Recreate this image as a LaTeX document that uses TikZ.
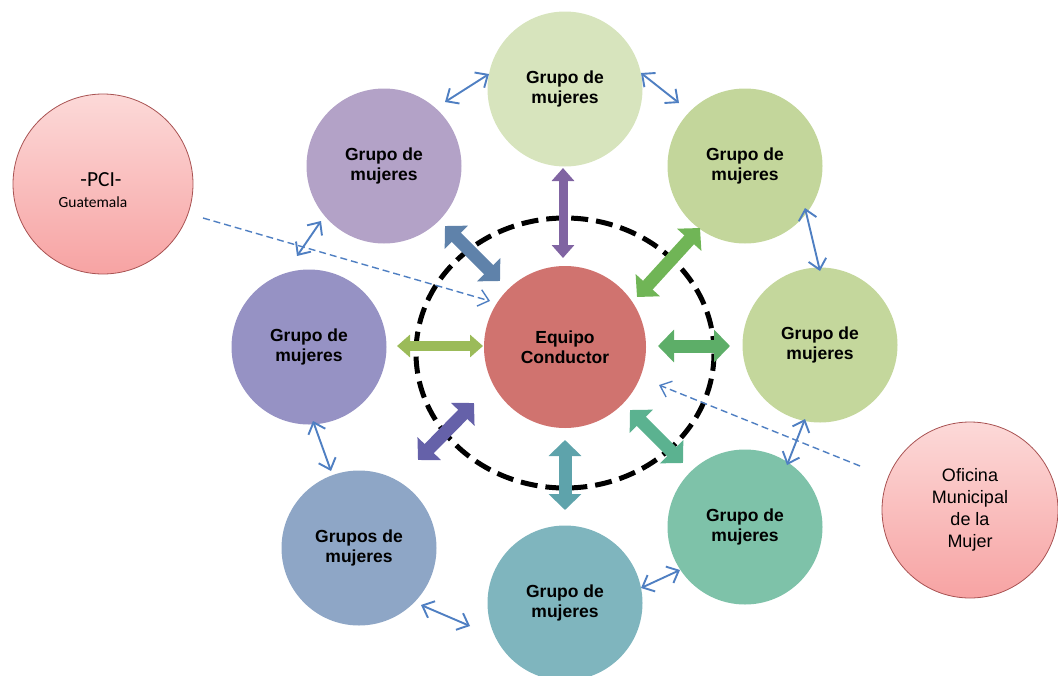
\documentclass[tikz,border=0pt]{standalone}
\usepackage{fontspec}
\setmainfont{Liberation Sans}
\newfontfamily\calfont{Carlito}
\usetikzlibrary{arrows.meta,shapes.geometric}
\definecolor{cTop}{HTML}{D7E4BD}
\definecolor{cTL}{HTML}{B3A2C7}
\definecolor{cTR}{HTML}{C3D69B}
\definecolor{cR}{HTML}{C4D79C}
\definecolor{cL}{HTML}{9692C4}
\definecolor{cBL}{HTML}{8EA6C6}
\definecolor{cB}{HTML}{7FB5BE}
\definecolor{cBR}{HTML}{7EC2A9}
\definecolor{cC}{HTML}{D0736F}
\definecolor{aTop}{HTML}{8064A2}
\definecolor{aTL}{HTML}{5F82AA}
\definecolor{aTR}{HTML}{70B556}
\definecolor{aL}{HTML}{9BBB59}
\definecolor{aR}{HTML}{5DAE68}
\definecolor{aBL}{HTML}{6561A9}
\definecolor{aB}{HTML}{5EA3AB}
\definecolor{aBR}{HTML}{5BB290}
\definecolor{linkblue}{HTML}{4F7FC2}
\definecolor{pinkT}{HTML}{FCD9D8}
\definecolor{pinkB}{HTML}{F7A3A3}
\definecolor{pinkD}{HTML}{A85252}
\tikzset{
  grupo/.style={circle, minimum size=155pt, inner sep=0pt, align=center,
    font=\bfseries\fontsize{17.5}{20}\selectfont},
  ext/.style={circle, inner sep=0pt, align=center, draw=pinkD, line width=0.8pt,
    top color=pinkT, bottom color=pinkB},
  bigarrow/.style={line width=13pt, {Triangle[length=16pt,width=32pt]}-{Triangle[length=16pt,width=32pt]}},
  slimarrow/.style={line width=9pt, {Triangle[length=13pt,width=22pt]}-{Triangle[length=13pt,width=22pt]}},
  link/.style={draw=linkblue, line width=1.9pt, {Straight Barb[length=10pt,width=18pt]}-{Straight Barb[length=10pt,width=18pt]}},
  dashlink/.style={draw=linkblue, line width=1.4pt, dash pattern=on 7pt off 4pt, -{Straight Barb[length=10pt,width=17pt]}}
}
\begin{document}
\begin{tikzpicture}[x=1pt,y=-1pt]
\useasboundingbox (0,0) rectangle (1058,675);
% dashed ellipse
\node[ellipse, draw=black, line width=5pt, dash pattern=on 17pt off 8pt,
  minimum width=298pt, minimum height=270pt] (ring) at (565,353) {};
% circles
\node[grupo, fill=cTop] (top) at (565,89) {Grupo de\\mujeres};
\node[grupo, fill=cTL] (tl) at (384,166) {Grupo de\\mujeres};
\node[grupo, fill=cTR] (tr) at (745,166) {Grupo de\\mujeres};
\node[grupo, fill=cR] (r) at (820,345) {Grupo de\\mujeres};
\node[grupo, fill=cL] (l) at (309,347) {Grupo de\\mujeres};
\node[grupo, fill=cBL] (bl) at (359,548) {Grupos de\\mujeres};
\node[grupo, fill=cB] (b) at (565,603) {Grupo de\\mujeres};
\node[grupo, fill=cBR] (br) at (745,527) {Grupo de\\mujeres};
\node[grupo, fill=cC, minimum size=162pt] (c) at (565,347) {Equipo\\Conductor};
% external
\node[ext, minimum size=180pt] (pci) at (103,184) {};
\node[font=\calfont\fontsize{21.5}{24}\selectfont, inner sep=0pt] (pcit) at (101,180) {-PCI-};
\node[font=\calfont\fontsize{15.5}{18}\selectfont, inner sep=0pt] (guat) at (93,202) {Guatemala};
\node[ext, minimum size=176pt, font=\fontsize{18}{22}\selectfont] (ofi) at (970,510)
  {Oficina\\Municipal\\de la\\Mujer};
% big arrows
\coordinate (p1a) at (563,168); \coordinate (p1b) at (563,258);
\draw[slimarrow, aTop] (p1a) -- (p1b);
\coordinate (p2a) at (445,226); \coordinate (p2b) at (500,281);
\draw[bigarrow, aTL] (p2a) -- (p2b);
\coordinate (p3a) at (700,228); \coordinate (p3b) at (637,297);
\draw[bigarrow, aTR] (p3a) -- (p3b);
\coordinate (p4a) at (397,346); \coordinate (p4b) at (483,346);
\draw[slimarrow, line width=10pt, aL] (p4a) -- (p4b);
\coordinate (p5a) at (658,346); \coordinate (p5b) at (730,346);
\draw[bigarrow, aR] (p5a) -- (p5b);
\coordinate (p6a) at (418,460); \coordinate (p6b) at (474,403);
\draw[bigarrow, aBL] (p6a) -- (p6b);
\coordinate (p7a) at (565,440); \coordinate (p7b) at (565,510);
\draw[bigarrow, aB] (p7a) -- (p7b);
\coordinate (p8a) at (630,410); \coordinate (p8b) at (683,463);
\draw[bigarrow, aBR] (p8a) -- (p8b);
% thin links
\coordinate (q1a) at (445,102); \coordinate (q1b) at (489,74);
\draw[link] (q1a) -- (q1b);
\coordinate (q2a) at (641,73); \coordinate (q2b) at (679,103);
\draw[link] (q2a) -- (q2b);
\coordinate (q3a) at (805,208); \coordinate (q3b) at (820,271);
\draw[link] (q3a) -- (q3b);
\coordinate (q4a) at (297,256); \coordinate (q4b) at (321,221);
\draw[link] (q4a) -- (q4b);
\coordinate (q5a) at (313,421); \coordinate (q5b) at (331,471);
\draw[link] (q5a) -- (q5b);
\coordinate (q6a) at (421,605); \coordinate (q6b) at (470,626);
\draw[link] (q6a) -- (q6b);
\coordinate (q7a) at (641,588); \coordinate (q7b) at (680,570);
\draw[link] (q7a) -- (q7b);
\coordinate (q8a) at (787,465); \coordinate (q8b) at (805,419);
\draw[link] (q8a) -- (q8b);
% dashed links
\coordinate (d1a) at (203,218); \coordinate (d1b) at (490,301);
\draw[dashlink] (d1a) -- (d1b);
\coordinate (d2a) at (860,466); \coordinate (d2b) at (659,385);
\draw[dashlink] (d2a) -- (d2b);
\end{tikzpicture}
\end{document}
